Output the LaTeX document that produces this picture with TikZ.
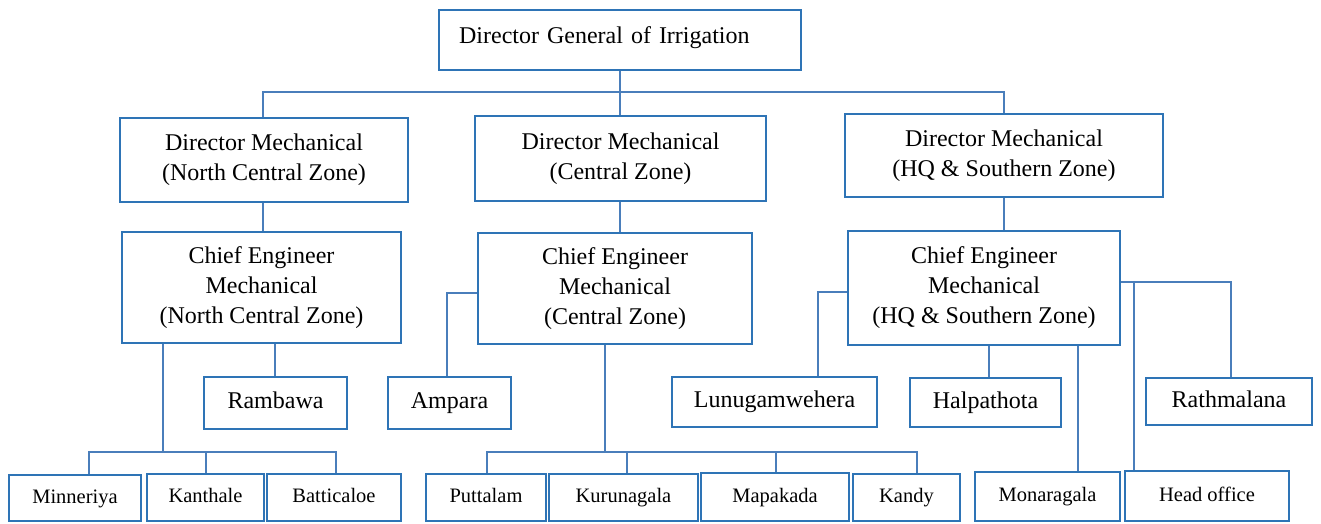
\documentclass[tikz,border=0pt]{standalone}
\usepackage{fontspec}
\setmainfont{Liberation Serif}
\definecolor{boxblue}{RGB}{46,116,182}
\definecolor{lineblue}{RGB}{74,126,187}
\begin{document}
\begin{tikzpicture}[x=1pt,y=-1pt,
  box/.style={draw=boxblue,line width=2.2pt,rectangle,inner sep=0pt,align=center,
    font=\fontsize{24}{30}\selectfont},
  mbox/.style={box,text height=16pt,text depth=5pt},
  sbox/.style={draw=boxblue,line width=2.2pt,rectangle,inner sep=0pt,align=center,
    font=\fontsize{20.5}{24}\selectfont,text height=14pt,text depth=4pt},
  conn/.style={draw=lineblue,line width=1.8pt}]
\useasboundingbox (0,0) rectangle (1321,523);
\newcommand{\bx}[6]{\node[#1,minimum width={#4-#2},minimum height={#5-#3}] (#6) at ({(#2+#4)/2},{(#3+#5)/2})}
% top
\node[box,anchor=north west,minimum width=362pt,inner xsep=20pt,text width=322pt,align=left,
  text height=33pt,text depth=27pt] (dg) at (438,9) {Director General of Irrigation};
\bx{box}{120}{118}{408}{202}{dnc} {Director Mechanical\\(North Central Zone)};
\bx{box}{475}{116}{766}{201}{dc} {Director Mechanical\\(Central Zone)};
\bx{box}{845}{114}{1163}{197}{dhq} {Director Mechanical\\(HQ \& Southern Zone)};
\bx{box}{122}{232}{401}{343}{cenc} {Chief Engineer\\Mechanical\\(North Central Zone)};
\bx{box}{478}{233}{752}{344}{cec} {Chief Engineer\\Mechanical\\(Central Zone)};
\bx{box}{848}{231}{1120}{345}{cehq} {Chief Engineer\\Mechanical\\(HQ \& Southern Zone)};
\bx{mbox}{204}{377}{347}{429}{ramb} {Rambawa};
\bx{mbox}{388}{377}{511}{429}{ampara} {Ampara};
\bx{mbox}{672}{377}{877}{427}{lunu} {Lunugamwehera};
\bx{mbox}{910}{378}{1061}{427}{halp} {Halpathota};
\bx{mbox}{1146}{378}{1312}{425}{rath} {Rathmalana};
\bx{sbox}{9}{475}{141}{521}{minn} {Minneriya};
\bx{sbox}{147}{474}{264}{521}{kanth} {Kanthale};
\bx{sbox}{267}{474}{401}{521}{batt} {Batticaloe};
\bx{sbox}{426}{474}{546}{521}{putt} {Puttalam};
\bx{sbox}{549}{474}{698}{521}{kuru} {Kurunagala};
\bx{sbox}{701}{473}{849}{521}{mapa} {Mapakada};
\bx{sbox}{853}{474}{960}{521}{kandy} {Kandy};
\bx{sbox}{975}{472}{1120}{521}{mona} {Monaragala};
\bx{sbox}{1125}{471}{1289}{521}{head} {Head office};
% coordinates
\coordinate (j0) at (620,92);
\coordinate (x1) at (263,0);
\coordinate (x2) at (1004,0);
\coordinate (b1) at (163,452);
\coordinate (b1l) at (89,452);
\coordinate (b1k) at (206,452);
\coordinate (b1r) at (336,452);
\coordinate (r1) at (275,0);
\coordinate (a1) at (447,293);
\coordinate (b2) at (605,452);
\coordinate (b2l) at (487,452);
\coordinate (b2k) at (627,452);
\coordinate (b2m) at (776,452);
\coordinate (b2r) at (917,452);
\coordinate (l1) at (818,292);
\coordinate (h1) at (989,0);
\coordinate (m1) at (1078,0);
\coordinate (q1) at (1134,282);
\coordinate (q2) at (1231,282);
% level 1
\draw[conn] (dg.south -| j0) -- (dc.north -| j0);
\draw[conn] (x1 |- dnc.north) |- (j0) -| (x2 |- dhq.north);
% level 2
\draw[conn] (x1 |- dnc.south) -- (x1 |- cenc.north);
\draw[conn] (j0 |- dc.south) -- (j0 |- cec.north);
\draw[conn] (x2 |- dhq.south) -- (x2 |- cehq.north);
% north central
\draw[conn] (r1 |- cenc.south) -- (r1 |- ramb.north);
\draw[conn] (b1 |- cenc.south) -- (b1);
\draw[conn] (b1l |- minn.north) -- (b1l) -- (b1r) -- (b1r |- batt.north);
\draw[conn] (b1k) -- (b1k |- kanth.north);
% central
\draw[conn] (cec.west |- a1) -- (a1) -- (a1 |- ampara.north);
\draw[conn] (b2 |- cec.south) -- (b2);
\draw[conn] (b2l |- putt.north) -- (b2l) -- (b2r) -- (b2r |- kandy.north);
\draw[conn] (b2k) -- (b2k |- kuru.north);
\draw[conn] (b2m) -- (b2m |- mapa.north);
% HQ & southern
\draw[conn] (cehq.west |- l1) -- (l1) -- (l1 |- lunu.north);
\draw[conn] (h1 |- cehq.south) -- (h1 |- halp.north);
\draw[conn] (m1 |- cehq.south) -- (m1 |- mona.north);
\draw[conn] (cehq.east |- q2) -- (q2) -- (q2 |- rath.north);
\draw[conn] (q1) -- (q1 |- head.north);
\end{tikzpicture}
\end{document}
